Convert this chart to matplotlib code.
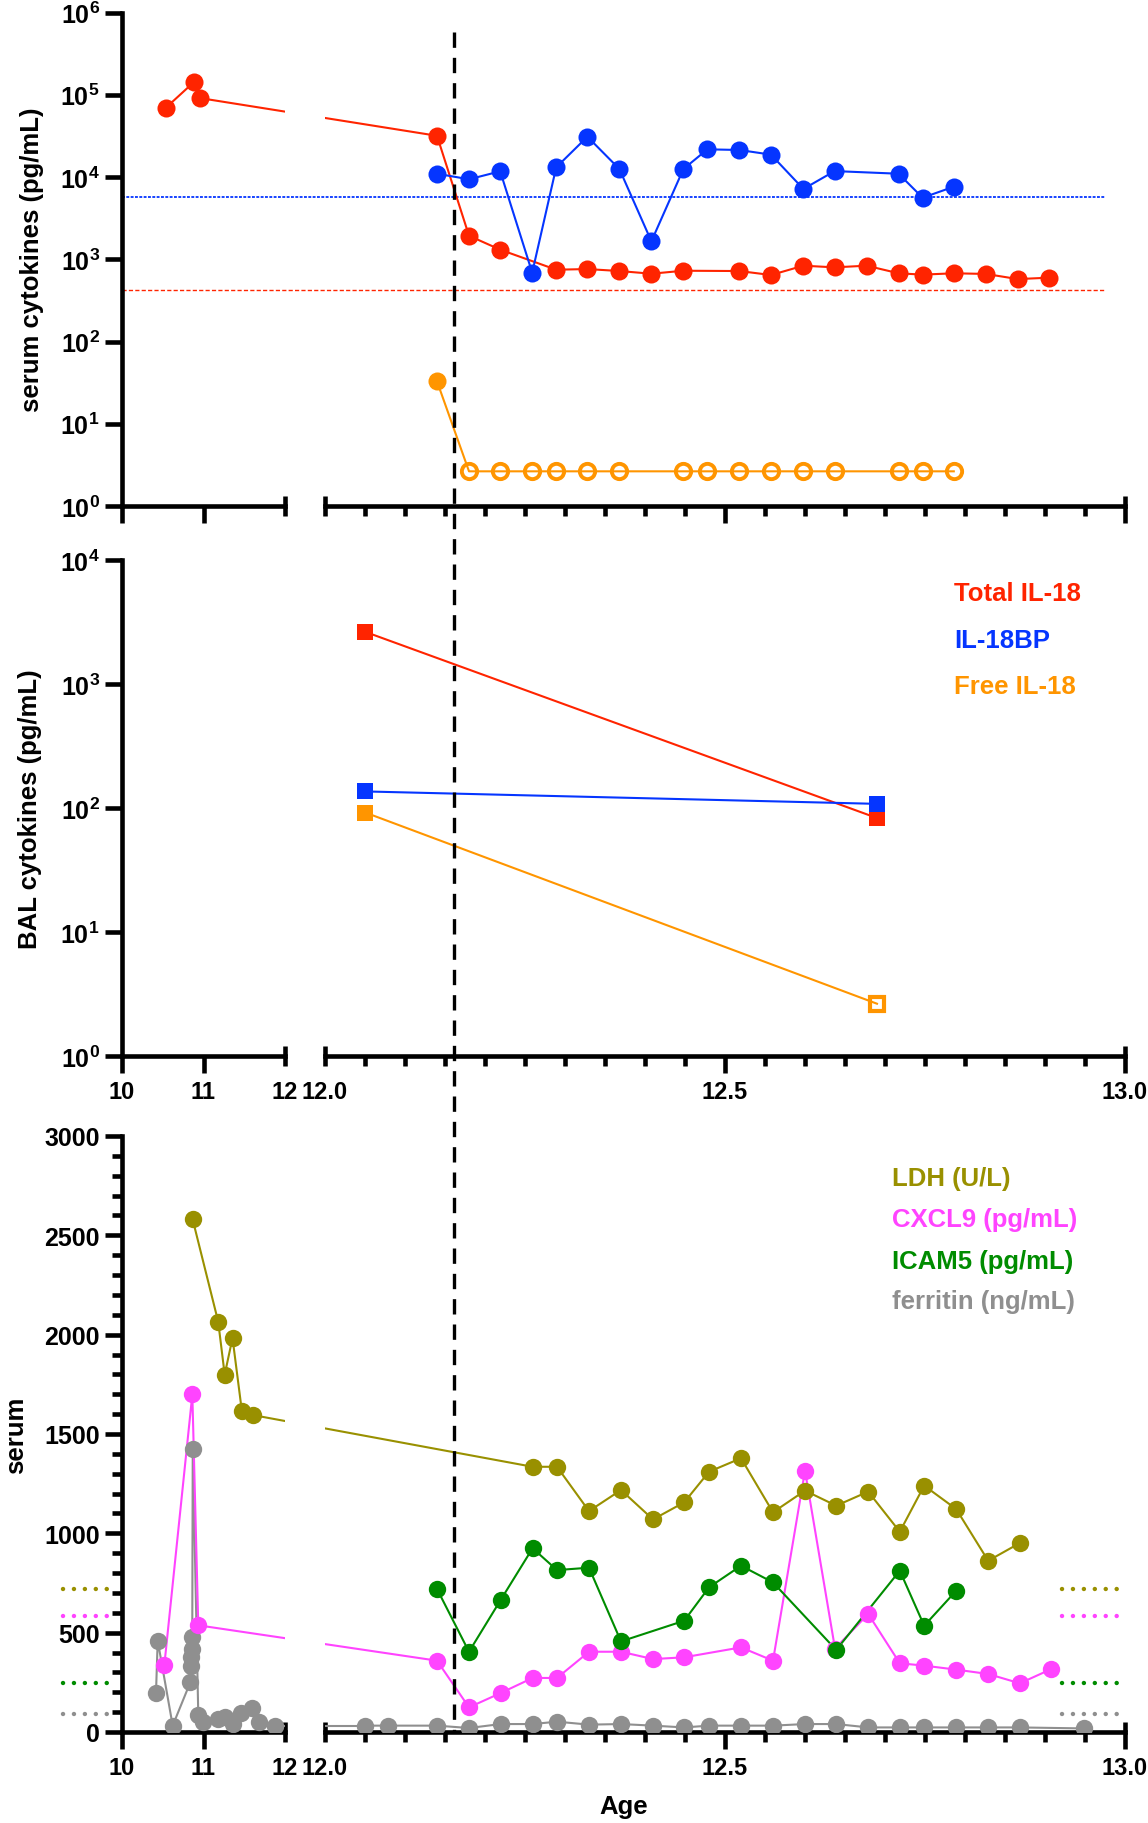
import matplotlib
matplotlib.use("Agg")
import matplotlib.pyplot as plt
from matplotlib.lines import Line2D
from matplotlib.ticker import FixedLocator, MultipleLocator, NullLocator

plt.rcParams.update({
    "font.family": ["Liberation Sans", "DejaVu Sans"],
    "font.weight": "bold",
    "mathtext.fontset": "custom",
    "mathtext.rm": "Liberation Sans:bold",
    "mathtext.bf": "Liberation Sans:bold",
    "mathtext.it": "Liberation Sans:bold",
})

# ---------------- data ----------------
treatment_age = 12.161

# serum cytokines (pg/mL)
total_early_age = [10.535, 10.88, 10.96]
total_early = [69000, 142000, 91000]
total_age = [12.140, 12.180, 12.219, 12.289, 12.328, 12.368, 12.408, 12.448, 12.518, 12.5575,
             12.598, 12.637, 12.677, 12.717, 12.747, 12.786, 12.826, 12.866, 12.905]
total_il18 = [31700, 1930, 1307, 746, 760, 719, 667, 725, 719, 643,
              835, 797, 835, 675, 650, 675, 663, 574, 597]
bp_age = [12.140, 12.180, 12.219, 12.259, 12.289, 12.328, 12.368, 12.408, 12.448, 12.478,
          12.518, 12.5575, 12.598, 12.637, 12.717, 12.747, 12.786]
il18bp = [10960, 9380, 11730, 687, 13100, 30900, 12500, 1652, 12500, 21700,
          21300, 18700, 7150, 11800, 10960, 5600, 7620]
free_age = [12.140, 12.180, 12.219, 12.259, 12.289, 12.328, 12.368, 12.448, 12.478, 12.518,
            12.5575, 12.598, 12.637, 12.717, 12.747, 12.786]
free_il18 = [32.8, 2.64, 2.64, 2.64, 2.64, 2.64, 2.64, 2.64, 2.64, 2.64,
             2.64, 2.64, 2.64, 2.64, 2.64, 2.64]
free_below_lod = [False, True, True, True, True, True, True, True, True, True,
                  True, True, True, True, True, True]
total_ref = 420
bp_ref = 5650

# BAL cytokines (pg/mL)
bal_age = [12.0505, 12.69]
bal_total = [2630, 83]
bal_bp = [136, 108]
bal_free = [91.8, 2.64]
bal_free_below_lod = [False, True]

# serum markers
ldh_early_age = [10.867, 11.18, 11.26, 11.356, 11.47, 11.61]
ldh_early = [2580, 2066, 1799, 1983, 1618, 1595]
ldh_age = [12.2595, 12.290, 12.33, 12.37, 12.41, 12.449, 12.48, 12.52, 12.56, 12.60,
           12.639, 12.679, 12.7185, 12.749, 12.789, 12.829, 12.8685]
ldh = [1335, 1335, 1112, 1218, 1070, 1156, 1310, 1378, 1106, 1215,
       1139, 1210, 1008, 1240, 1122, 862, 951]
cxcl9_early_age = [10.52, 10.863, 10.936]
cxcl9_early = [339, 1699, 537]
cxcl9_age = [12.14, 12.18, 12.2195, 12.2595, 12.29, 12.33, 12.37, 12.41, 12.449, 12.52,
             12.56, 12.60, 12.6375, 12.679, 12.7185, 12.749, 12.789, 12.829, 12.8685, 12.908]
cxcl9 = [359, 124, 196, 272, 272, 404, 404, 367, 376, 426,
         359, 1315, 420, 594, 346, 334, 314, 292, 245, 317]
icam5_age = [12.14, 12.18, 12.2195, 12.2595, 12.29, 12.33, 12.37, 12.449, 12.48, 12.52,
             12.56, 12.639, 12.7185, 12.749, 12.789]
icam5 = [720, 404, 664, 925, 815, 827, 456, 560, 728, 837,
         753, 413, 812, 535, 711]
ferritin_early_age = [10.417, 10.438, 10.622, 10.838, 10.843, 10.850, 10.856, 10.862, 10.868,
                      10.936, 10.998, 11.18, 11.26, 11.356, 11.466, 11.60, 11.685, 11.877]
ferritin_early = [195, 460, 32, 250, 334, 376, 418, 477, 1427,
                  86, 49, 65, 74, 40, 96, 119, 52, 32]
ferritin_age = [12.05, 12.079, 12.14, 12.18, 12.2195, 12.2595, 12.29, 12.33, 12.37, 12.41,
                12.449, 12.48, 12.52, 12.56, 12.60, 12.639, 12.679, 12.7185, 12.749, 12.789,
                12.829, 12.8685, 12.949]
ferritin = [32, 32, 32, 20, 40, 40, 52, 37, 40, 32,
            23, 32, 32, 32, 40, 40, 23, 23, 23, 23,
            23, 23, 18]
marker_ref = [720, 585, 248, 89]   # LDH, CXCL9, ICAM5, ferritin normal limits

left_ticks = [10, 11, 12]
left_tick_labels = ["10", "11", "12"]
right_ticks = [12.0, 12.5, 13.0]
right_tick_labels = ["12.0", "12.5", "13.0"]
log_ticks_top = [1, 10, 100, 1000, 10000, 100000, 1000000]
log_ticks_mid = [1, 10, 100, 1000, 10000]

legend_cyt = ["Total IL-18", "IL-18BP", "Free IL-18"]
legend_serum = ["LDH (U/L)", "CXCL9 (pg/mL)", "ICAM5 (pg/mL)", "ferritin (ng/mL)"]

RED, BLUE, ORANGE = "#FF2400", "#0535FF", "#FF9500"
OLIVE, PINK, GREEN, GRAY = "#999000", "#FF44FF", "#008C00", "#8F8F8F"

# ---------------- layout ----------------
W, H = 1148, 1824
fig = plt.figure(figsize=(W / 100, H / 100), dpi=100)
XL = (122, 285)
XR = (325, 1125)
LW_AX = 3.3


def fx(px):
    return px / W


def fy(py):
    return 1 - py / H


def add_ax(x0, x1, y0, y1):
    return fig.add_axes([x0 / W, 1 - y1 / H, (x1 - x0) / W, (y1 - y0) / H])


def make_pair(y0, y1, log, ylim, show_labels):
    axl = add_ax(XL[0], XL[1], y0, y1)
    axr = add_ax(XR[0], XR[1], y0, y1)
    for ax in (axl, axr):
        ax.set_facecolor("none")
        for s in ("top", "right"):
            ax.spines[s].set_visible(False)
        for s in ax.spines.values():
            s.set_linewidth(LW_AX)
            s.set_capstyle("projecting")
        if log:
            ax.set_yscale("log")
        ax.set_ylim(*ylim)
        ax.tick_params(axis="x", which="major", direction="out", length=12, width=LW_AX,
                       labelsize=17, pad=5, labelbottom=show_labels)
        ax.tick_params(axis="x", which="minor", direction="out", length=7.5, width=LW_AX)
    axr.spines["left"].set_visible(False)
    axr.tick_params(axis="y", which="both", left=False, labelleft=False)
    axl.tick_params(axis="y", which="major", direction="out", length=12, width=LW_AX,
                    labelsize=18, pad=4)
    axl.tick_params(axis="y", which="minor", direction="out", length=7, width=LW_AX)
    axl.set_xlim(10, 12)
    axr.set_xlim(12, 13)
    axl.xaxis.set_major_locator(FixedLocator(left_ticks))
    axl.set_xticklabels(left_tick_labels)
    axl.xaxis.set_minor_locator(NullLocator())
    axr.xaxis.set_major_locator(FixedLocator(right_ticks))
    axr.set_xticklabels(right_tick_labels)
    axr.xaxis.set_minor_locator(MultipleLocator(0.05))
    # break caps
    cap = 10 / (y1 - y0)
    for ax, xs in ((axl, [12]), (axr, [12.0, 13.0])):
        for xv in xs:
            ax.plot([xv, xv], [0, cap], transform=ax.get_xaxis_transform(), clip_on=False,
                    color="black", lw=LW_AX, solid_capstyle="butt")
    return axl, axr


def finish_ticks(axl, axr):
    axl.xaxis.get_major_ticks()[2].tick1line.set_markersize(7.5)
    axr.xaxis.get_major_ticks()[0].tick1line.set_markersize(7.5)


def to_fig(ax, x, y):
    d = ax.transData.transform((x, y))
    return fig.transFigure.inverted().transform(d)


def bridge(axl, axr, pl, pr, color, lw):
    a = to_fig(axl, *pl)
    b = to_fig(axr, *pr)
    for ax in (axl, axr):
        ln = Line2D([a[0], b[0]], [a[1], b[1]], transform=fig.transFigure,
                    color=color, lw=lw, zorder=2)
        ax.add_line(ln)


def log_labels(vals):
    out = []
    for v in vals:
        e = len(str(int(v))) - 1
        out.append(r"$\mathbf{10}^{\mathbf{%d}}$" % e)
    return out


LINE_W = 1.5
MS = 13

# ---------------- top panel ----------------
tl, tr = make_pair(13.5, 507, True, (1, 1e6), False)
tl.yaxis.set_major_locator(FixedLocator(log_ticks_top))
tl.set_yticklabels(log_labels(log_ticks_top))
tl.yaxis.set_minor_locator(NullLocator())

tl.plot(total_early_age, total_early, color=RED, lw=LINE_W, zorder=2)
tl.plot(total_early_age, total_early, ls="none", marker="o", ms=MS, mfc=RED, mew=0, zorder=3)
tr.plot(total_age, total_il18, color=RED, lw=LINE_W, zorder=2)
tr.plot(bp_age, il18bp, color=BLUE, lw=LINE_W, zorder=2)
tr.plot(free_age, free_il18, color=ORANGE, lw=LINE_W, zorder=2)
tr.plot(total_age, total_il18, ls="none", marker="o", ms=MS, mfc=RED, mew=0, zorder=3)
tr.plot(bp_age, il18bp, ls="none", marker="o", ms=MS, mfc=BLUE, mew=0, zorder=3.1)
fa_f = [a for a, b in zip(free_age, free_below_lod) if not b]
fv_f = [v for v, b in zip(free_il18, free_below_lod) if not b]
fa_o = [a for a, b in zip(free_age, free_below_lod) if b]
fv_o = [v for v, b in zip(free_il18, free_below_lod) if b]
tr.plot(fa_f, fv_f, ls="none", marker="o", ms=MS, mfc=ORANGE, mew=0, zorder=3.2)
tr.plot(fa_o, fv_o, ls="none", marker="o", ms=MS - 2, mfc="none", mec=ORANGE, mew=2.8, zorder=3.2)
bridge(tl, tr, (total_early_age[-1], total_early[-1]), (total_age[0], total_il18[0]), RED, LINE_W)

# reference lines across both segments
for val, col, dash, lw in ((total_ref, RED, (3, 1.6), 1.0), (bp_ref, BLUE, (1.6, 0.8), 1.3)):
    a = to_fig(tl, 10, val)
    b = to_fig(tr, 12.975, val)
    ln = Line2D([a[0], b[0]], [a[1], b[1]], transform=fig.transFigure, color=col, lw=lw,
                dashes=dash, clip_on=False, zorder=1.5)
    tl.add_line(ln)
finish_ticks(tl, tr)

# ---------------- middle panel ----------------
ml, mr = make_pair(561, 1057, True, (1, 1e4), True)
ml.yaxis.set_major_locator(FixedLocator(log_ticks_mid))
ml.set_yticklabels(log_labels(log_ticks_mid))
ml.yaxis.set_minor_locator(NullLocator())
SQ = 12
for vals, col in ((bal_total, RED), (bal_bp, BLUE), (bal_free, ORANGE)):
    mr.plot(bal_age, vals, color=col, lw=LINE_W, zorder=2)
mr.plot(bal_age, bal_total, ls="none", marker="s", ms=SQ, mfc=RED, mew=0, zorder=3)
mr.plot(bal_age, bal_bp, ls="none", marker="s", ms=SQ, mfc=BLUE, mew=0, zorder=3.1)
for a, v, b in zip(bal_age, bal_free, bal_free_below_lod):
    if b:
        mr.plot([a], [v], ls="none", marker="s", ms=SQ - 2.3, mfc="none", mec=ORANGE, mew=3.0, zorder=3.2)
    else:
        mr.plot([a], [v], ls="none", marker="s", ms=SQ, mfc=ORANGE, mew=0, zorder=3.2)
for txt, col, yy in zip(legend_cyt, (RED, BLUE, ORANGE), (594.5, 641.5, 687.5)):
    fig.text(fx(954), fy(yy), txt, color=col, fontsize=18.5, fontweight="bold", ha="left", va="center")
finish_ticks(ml, mr)

# ---------------- bottom panel ----------------
bl, br = make_pair(1137, 1733, False, (0, 3000), True)
bl.yaxis.set_major_locator(MultipleLocator(500))
bl.yaxis.set_minor_locator(MultipleLocator(100))
MSB = 12.5
bl.plot(ldh_early_age, ldh_early, color=OLIVE, lw=LINE_W, zorder=2)
bl.plot(ferritin_early_age, ferritin_early, color=GRAY, lw=LINE_W, zorder=2)
bl.plot(cxcl9_early_age, cxcl9_early, color=PINK, lw=LINE_W, zorder=2)
br.plot(ldh_age, ldh, color=OLIVE, lw=LINE_W, zorder=2)
br.plot(ferritin_age, ferritin, color=GRAY, lw=LINE_W, zorder=2)
br.plot(cxcl9_age, cxcl9, color=PINK, lw=LINE_W, zorder=2)
br.plot(icam5_age, icam5, color=GREEN, lw=LINE_W, zorder=2)
for ax, xs, ys, col, z in ((bl, ldh_early_age, ldh_early, OLIVE, 3),
                           (bl, ferritin_early_age, ferritin_early, GRAY, 3.1),
                           (bl, cxcl9_early_age, cxcl9_early, PINK, 3.2),
                           (br, ldh_age, ldh, OLIVE, 3),
                           (br, ferritin_age, ferritin, GRAY, 3.1),
                           (br, cxcl9_age, cxcl9, PINK, 3.2),
                           (br, icam5_age, icam5, GREEN, 3.3)):
    ax.plot(xs, ys, ls="none", marker="o", ms=MSB, mfc=col, mew=0, zorder=z)
bridge(bl, br, (ldh_early_age[-1], ldh_early[-1]), (ldh_age[0], ldh[0]), OLIVE, LINE_W)
bridge(bl, br, (cxcl9_early_age[-1], cxcl9_early[-1]), (cxcl9_age[0], cxcl9[0]), PINK, LINE_W)
bridge(bl, br, (ferritin_early_age[-1], ferritin_early[-1]), (ferritin_age[0], ferritin[0]), GRAY, LINE_W)

for val, col in zip(marker_ref, (OLIVE, PINK, GREEN, GRAY)):
    bl.plot([9.28, 9.94], [val, val], color=col, lw=3.2, ls=(0, (0.01, 2.45)),
            dash_capstyle="round", clip_on=False, zorder=4)
    br.plot([12.921, 12.99], [val, val], color=col, lw=3.2, ls=(0, (0.01, 2.45)),
            dash_capstyle="round", clip_on=False, zorder=4)
for txt, col, yy in zip(legend_serum, (OLIVE, PINK, GREEN, GRAY), (1179, 1220.5, 1261.5, 1302)):
    fig.text(fx(892), fy(yy), txt, color=col, fontsize=18.5, fontweight="bold", ha="left", va="center")
finish_ticks(bl, br)

# ---------------- shared annotations ----------------
xd = to_fig(tr, treatment_age, 1)[0]
fig.add_artist(Line2D([xd, xd], [fy(33), fy(1733)], transform=fig.transFigure, color="black",
                      lw=2.4, dashes=(4.6, 3.0), zorder=5))

fig.text(fx(32), fy(260), "serum cytokines (pg/mL)", rotation=90, ha="center", va="center",
         fontsize=18.5, fontweight="bold")
fig.text(fx(30), fy(809), "BAL cytokines (pg/mL)", rotation=90, ha="center", va="center",
         fontsize=18.5, fontweight="bold")
fig.text(fx(16), fy(1435), "serum", rotation=90, ha="center", va="center",
         fontsize=18.5, fontweight="bold")
fig.text(fx(623.5), fy(1807), "Age", ha="center", va="center", fontsize=18.5, fontweight="bold")

fig.savefig("out.png", dpi=100)
